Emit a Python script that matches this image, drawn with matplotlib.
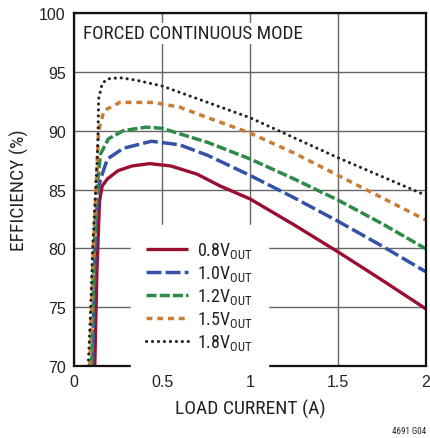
import matplotlib
matplotlib.use("Agg")
import matplotlib.pyplot as plt
from matplotlib import font_manager

# pick a condensed sans face if one is around, else plain Liberation Sans
names = {f.name for f in font_manager.fontManager.ttflist}
narrow = 'Liberation Sans'
for cand in ['Liberation Sans Narrow', 'Roboto Condensed', 'Open Sans Condensed']:
    if cand in names:
        narrow = cand
        break

plt.rcParams['font.family'] = [narrow, 'DejaVu Sans']
plt.rcParams['mathtext.fontset'] = 'custom'
plt.rcParams['mathtext.rm'] = narrow

# efficiency curves (load current A, efficiency %)
i_08 = [0.118, 0.13, 0.145, 0.16, 0.19, 0.25, 0.33, 0.43, 0.55, 0.7, 0.83, 1.0, 1.25, 1.5, 1.75, 2.0]
e_08 = [70, 78, 84, 85.3, 85.9, 86.6, 87.0, 87.2, 87.0, 86.3, 85.3, 84.2, 82.0, 79.7, 77.3, 74.85]

i_10 = [0.105, 0.12, 0.135, 0.16, 0.19, 0.28, 0.44, 0.6, 0.76, 1.0, 1.25, 1.5, 1.75, 2.0]
e_10 = [70, 80, 85, 86.3, 87.6, 88.5, 89.1, 88.8, 87.9, 86.2, 84.3, 82.3, 80.2, 78.0]

i_12 = [0.1, 0.115, 0.13, 0.15, 0.195, 0.28, 0.41, 0.5, 0.76, 1.0, 1.25, 1.5, 1.75, 2.0]
e_12 = [70, 80, 85, 88.0, 89.3, 90.0, 90.3, 90.2, 89.0, 87.6, 85.9, 84.1, 82.1, 79.95]

i_15 = [0.09, 0.11, 0.125, 0.14, 0.17, 0.26, 0.45, 0.6, 0.76, 1.0, 1.25, 1.5, 1.75, 2.0]
e_15 = [70, 80, 85, 90, 91.7, 92.4, 92.4, 92.0, 91.1, 89.8, 88.1, 86.2, 84.3, 82.4]

i_18 = [0.081, 0.095, 0.106, 0.123, 0.13, 0.136, 0.14, 0.16, 0.19, 0.26, 0.35, 0.5, 0.76, 1.0, 1.25, 1.5, 1.75, 2.0]
e_18 = [70, 75, 80, 85, 87, 89.3, 92.7, 94.0, 94.4, 94.5, 94.3, 93.8, 92.4, 91.1, 89.4, 87.7, 86.1, 84.5]

labels = ['0.8', '1.0', '1.2', '1.5', '1.8']
x_ticks = [0, 0.5, 1, 1.5, 2]
x_tick_labels = ['0', '0.5', '1', '1.5', '2']
y_ticks = [70, 75, 80, 85, 90, 95, 100]

fig = plt.figure(figsize=(4.30, 4.39), dpi=100)
ax = fig.add_axes([74/430, 1 - 367/439, 352/430, 353/439])

ax.plot(i_08, e_08, color='#9a0f31', lw=2.4, solid_capstyle='butt',
        label=labels[0] + r'V$_{\mathrm{OUT}}$')
ax.plot(i_10, e_10, color='#3553a6', lw=2.5, dashes=(4.3, 1.2),
        label=labels[1] + r'V$_{\mathrm{OUT}}$')
ax.plot(i_12, e_12, color='#2d8a48', lw=2.5, dashes=(2.9, 0.9),
        label=labels[2] + r'V$_{\mathrm{OUT}}$')
ax.plot(i_15, e_15, color='#c97d36', lw=2.5, dashes=(1.7, 1.4),
        label=labels[3] + r'V$_{\mathrm{OUT}}$')
ax.plot(i_18, e_18, color='#222222', lw=2.2, linestyle=(0, (0.05, 1.9)),
        dash_capstyle='round', label=labels[4] + r'V$_{\mathrm{OUT}}$')

ax.set_xlim(0, 2)
ax.set_ylim(70, 100)
ax.set_xticks(x_ticks)
ax.set_xticklabels(x_tick_labels)
ax.set_yticks(y_ticks)
ax.tick_params(length=0, labelsize=11.5, pad=6, colors='#222222')
for t in ax.get_xticklabels() + ax.get_yticklabels():
    t.set_fontfamily(['Liberation Sans', 'DejaVu Sans'])
ax.grid(True, color='#666666', lw=1.0)
ax.set_axisbelow(True)
for s in ax.spines.values():
    s.set_linewidth(1.6)
    s.set_color('#111111')

ax.set_xlabel('LOAD CURRENT (A)', fontsize=14, labelpad=7, color='#222222')
ax.set_ylabel('EFFICIENCY (%)', fontsize=14, labelpad=7, color='#222222')

ax.text(0.025, 0.968, 'FORCED CONTINUOUS MODE', transform=ax.transAxes,
        fontsize=13.8, ha='left', va='top', color='#222222',
        bbox=dict(facecolor='white', edgecolor='none', pad=1.0))

leg = ax.legend(loc='lower left', bbox_to_anchor=(0.162, -0.005), fontsize=13,
                handlelength=2.3, handletextpad=0.5, labelspacing=0.17,
                borderpad=0.85, borderaxespad=0, fancybox=False,
                framealpha=1, edgecolor='white', facecolor='white')
for t in leg.get_texts():
    t.set_color('#222222')

fig.text(426/430, 1 - 432/439, '4691 G04', fontsize=6.5, ha='right', va='center', color='#222222')

fig.savefig('out.png', dpi=100)
